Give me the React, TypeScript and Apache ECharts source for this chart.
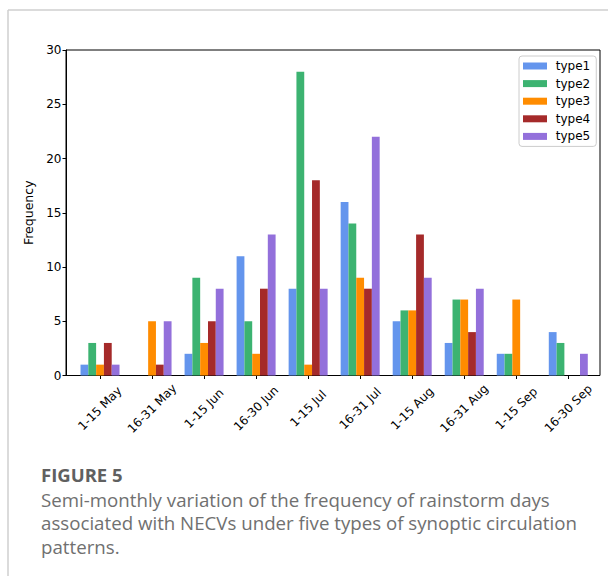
import React, { useEffect, useRef } from "react";
import * as echarts from "echarts";

const categories = ["1-15 May", "16-31 May", "1-15 Jun", "16-30 Jun", "1-15 Jul", "16-31 Jul", "1-15 Aug", "16-31 Aug", "1-15 Sep", "16-30 Sep"];
const type1 = [1, 0, 2, 11, 8, 16, 5, 3, 2, 4];
const type2 = [3, 0, 9, 5, 28, 14, 6, 7, 2, 3];
const type3 = [1, 5, 3, 2, 1, 9, 6, 7, 7, 0];
const type4 = [3, 1, 5, 8, 18, 8, 13, 4, 0, 0];
const type5 = [1, 5, 8, 13, 8, 22, 9, 8, 0, 2];
const seriesNames = ["type1", "type2", "type3", "type4", "type5"];
const seriesColors = ["#6495ED", "#3CB371", "#FF8C00", "#A52A2A", "#9370DB"];
const yTicks = { min: 0, max: 30, interval: 5 };
const captionTitle = "FIGURE 5";
const captionLines = [
  "Semi-monthly variation of the frequency of rainstorm days",
  "associated with NECVs under five types of synoptic circulation",
  "patterns.",
];

export default function App() {
  const ref = useRef<HTMLDivElement>(null);
  useEffect(() => {
    document.body.style.margin = "0";
    const chart = echarts.init(ref.current!, null, { renderer: "svg" });
    const allData = [type1, type2, type3, type4, type5];
    const font = "DejaVu Sans";
    const capFont = "Open Sans";
    chart.setOption({
      animation: false,
      backgroundColor: "#fff",
      grid: [
        { left: 74, right: 13.7, top: 50, bottom: 200.5, containLabel: false },
        { left: 66, right: 8, top: 50, bottom: 200.5, show: true, borderColor: "#000", borderWidth: 1, backgroundColor: "transparent", z: 0 },
      ],
      xAxis: [
        {
          type: "category",
          data: categories,
          gridIndex: 0,
          axisLine: { show: false },
          axisTick: { show: true, alignWithLabel: true, length: 3.5, lineStyle: { color: "#000", width: 1 } },
          axisLabel: {
            rotate: 45,
            align: "center",
            verticalAlign: "middle",
            margin: 33,
            fontSize: 12,
            fontFamily: font,
            color: "#000",
            interval: 0,
          },
          splitLine: { show: false },
        },
        { type: "value", gridIndex: 1, show: false, min: 0, max: 1 },
      ],
      yAxis: [
        { type: "value", gridIndex: 0, show: false, min: yTicks.min, max: yTicks.max, interval: yTicks.interval },
        {
          type: "value",
          gridIndex: 1,
          min: yTicks.min,
          max: yTicks.max,
          interval: yTicks.interval,
          name: "Frequency",
          nameLocation: "middle",
          nameGap: 28,
          nameTextStyle: { fontSize: 12.5, fontFamily: font, color: "#000" },
          axisLine: { show: true, lineStyle: { color: "#000", width: 1 } },
          axisTick: { show: true, length: 3.5, lineStyle: { color: "#000", width: 1 } },
          axisLabel: { margin: 4.5, fontSize: 12, fontFamily: font, color: "#000" },
          splitLine: { show: false },
        },
      ],
      legend: {
        orient: "vertical",
        left: 519,
        top: 56,
        icon: "rect",
        itemWidth: 24,
        itemHeight: 7,
        itemGap: 5.6,
        padding: [4, 6, 4, 4],
        borderColor: "#cccccc",
        borderWidth: 1,
        borderRadius: 3,
        backgroundColor: "#fff",
        formatter: (n: string) => " " + n,
        textStyle: { fontSize: 12, fontFamily: font, color: "#000" },
        data: seriesNames,
      },
      series: seriesNames.map((name, i) => ({
        name,
        type: "bar",
        xAxisIndex: 0,
        yAxisIndex: 0,
        data: allData[i],
        barWidth: 7.8,
        barGap: "0%",
        itemStyle: { color: seriesColors[i] },
      })),
      graphic: [
        { type: "line", shape: { x1: 8, y1: 10, x2: 608, y2: 10 }, style: { stroke: "#cfcfcf", lineWidth: 1.5 } },
        { type: "line", shape: { x1: 8, y1: 10, x2: 8, y2: 576 }, style: { stroke: "#cfcfcf", lineWidth: 1.5 } },
        {
          type: "text",
          x: 41,
          y: 474,
          style: { text: captionTitle, fontSize: 18.5, fontWeight: "bold", fontFamily: capFont, fill: "#606060", verticalAlign: "middle" },
        },
        ...captionLines.map((t, i) => ({
          type: "text",
          x: 41,
          y: 499 + i * 23.8,
          style: { text: t, fontSize: 18.7, fontFamily: capFont, fill: "#707070", verticalAlign: "middle" },
        })),
      ],
    });
    return () => chart.dispose();
  }, []);
  return <div ref={ref} style={{ width: 608, height: 576 }} />;
}
